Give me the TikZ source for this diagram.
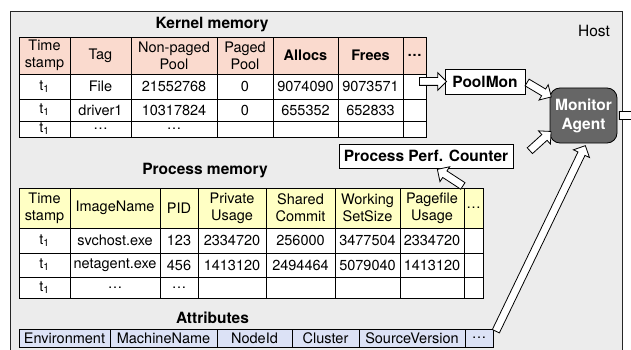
\documentclass[tikz,border=0pt]{standalone}
\usepackage{fontspec}
\setmainfont{TeX Gyre Heros}
\usetikzlibrary{calc,shapes.arrows}

\definecolor{hostgray}{RGB}{236,236,236}
\definecolor{kernpink}{RGB}{250,218,206}
\definecolor{procyellow}{RGB}{255,255,196}
\definecolor{attrblue}{RGB}{220,226,246}
\definecolor{agentgray}{RGB}{102,102,102}

\newcommand\tone{t\textsubscript{1}}
% one row of a table: name, x borders, centre y, height, style, cells
\newcommand\tablerow[6]{%
  \foreach \txt [count=\col] in {#6}{
    \pgfmathsetmacro\xa{#2[\col-1]}
    \pgfmathsetmacro\xb{#2[\col]}
    \node[#5, minimum width=\xb-\xa, minimum height=#4] (#1-\col) at ({(\xa+\xb)/2},#3) {\txt};
  }}
% hollow fat arrow from #1 to #2
\newcommand\fatarrow[2]{%
  \path let \p1=($(#2)-(#1)$), \n1={atan2(\y1,\x1)}, \n2={veclen(\x1,\y1)} in
    node[fat, minimum height=\n2, rotate=\n1] at ($(#1)!0.5!(#2)$) {};}

\begin{document}
\begin{tikzpicture}
    [x=1pt, y=-1pt,
    cell/.style={draw, line width=0.8pt, inner sep=0pt, outer sep=0pt, align=center,
      font=\fontsize{14.5}{17}\selectfont},
    title/.style={inner sep=0pt, font=\fontsize{15.5}{18}\selectfont\bfseries},
    tool/.style={draw, line width=0.8pt, fill=white, inner sep=0pt,
      font=\fontsize{15.5}{18}\selectfont\bfseries},
    agentbox/.style={draw, line width=0.8pt, fill=agentgray, text=white, rounded corners=10pt,
      align=center, inner sep=0pt, font=\fontsize{15.5}{19}\selectfont\bfseries},
    fat/.style={single arrow, draw, line width=0.8pt, fill=white, inner sep=3.5pt,
      outer sep=0pt, single arrow head extend=5pt},
    ]
    \useasboundingbox (0,0) rectangle (631,350);
    \draw[fill=hostgray, draw=black!85, line width=0.8pt] (10.5,11.5) rectangle (622,380);
    \node[font=\fontsize{15.5}{18}\selectfont, inner sep=0pt] (host) at (594,31) {Host};

    % kernel memory
    \def\kx{{19,70,131,217,273,338,403,426}}
    \node[title] (ktitle) at (212,25) {Kernel memory};
    \tablerow{k0}{\kx}{55.5}{37}{cell, fill=kernpink}
      {{Time\\stamp},Tag,{Non-paged\\Pool},{Paged\\Pool},\textbf{Allocs},\textbf{Frees},\textbf{\ldots}}
    \tablerow{k1}{\kx}{86.5}{25}{cell, fill=white}{\tone,File,21552768,0,9074090,9073571,{}}
    \tablerow{k2}{\kx}{110}{22}{cell, fill=white}{\tone,driver1,10317824,0,655352,652833,{}}
    \tablerow{k3}{\kx}{129}{16}{cell, fill=white}{\tone,\ldots,\ldots,{},{},{},{}}

    % process memory
    \def\px{{19,70,160,198,266,335,400,464,483}}
    \node[title] (ptitle) at (205,171) {Process memory};
    \tablerow{p0}{\px}{208}{40}{cell, fill=procyellow}
      {{Time\\stamp},ImageName,PID,{Private\\Usage},{Shared\\Commit},{Working\\SetSize},{Pagefile\\Usage},\ldots}
    \tablerow{p1}{\px}{240.5}{25}{cell, fill=white}{\tone,svchost.exe,123,2334720,256000,3477504,2334720,{}}
    \tablerow{p2}{\px}{265}{24}{cell, fill=white}{\tone,netagent.exe,456,1413120,2494464,5079040,1413120,{}}
    \tablerow{p3}{\px}{287.5}{21}{cell, fill=white}{\tone,\ldots,\ldots,{},{},{},{},{}}

    % attributes
    \def\ax{{19,110,217,292,359,465,493}}
    \node[title] (atitle) at (212.5,317.5) {Attributes};
    \tablerow{a}{\ax}{338}{18}{cell, fill=attrblue}
      {Environment,MachineName,NodeId,Cluster,SourceVersion,\ldots}

    % collectors and agent
    \node[tool, minimum width=80, minimum height=25] (pool) at (485,81.5) {PoolMon};
    \node[tool, minimum width=174, minimum height=24] (perf) at (426,156) {Process Perf. Counter};
    \node[agentbox, minimum width=67, minimum height=55] (agent) at (583.5,115.5) {Monitor\\Agent};

    \coordinate (ktail) at ($(pool.west)+(-27,0)$);
    \coordinate (perftail) at ($(perf.east)+(15,-4)$);
    \coordinate (ptail) at ($(p0-8.north)+(-9,-1)$);
    \coordinate (perfhead) at ($(perf.south)+(13,2)$);
    \coordinate (atail) at ($(a-6.north east)+(2,4)$);
    \coordinate (ahead) at ($(agent.south)+(1,4)$);
    \coordinate (out) at ($(agent.east)+(45,0)$);
    \fatarrow{ktail}{pool.west}
    \fatarrow{pool.east}{agent.150}
    \fatarrow{perftail}{agent.207}
    \fatarrow{ptail}{perfhead}
    \fatarrow{atail}{ahead}
    \fatarrow{agent.east}{out}
  \end{tikzpicture}
\end{document}
